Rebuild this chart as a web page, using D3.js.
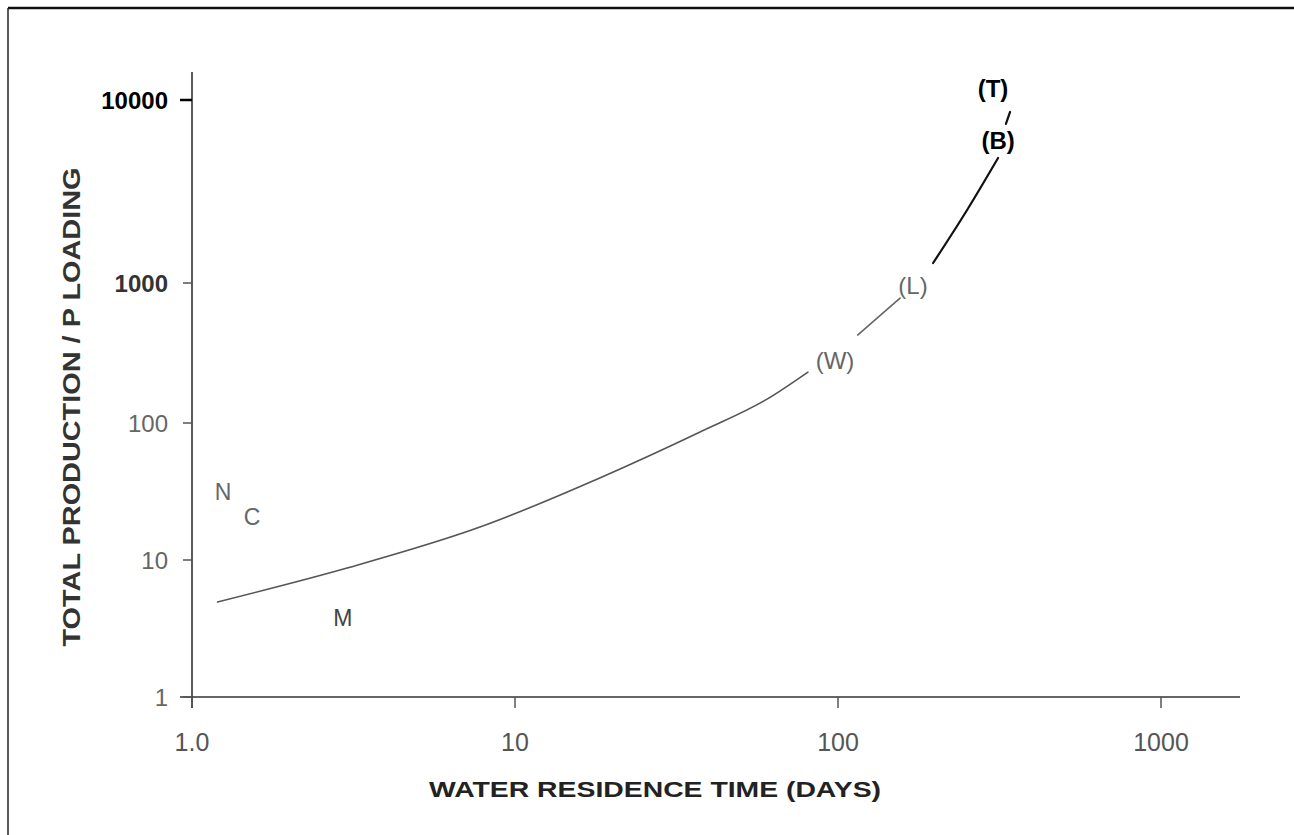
<!DOCTYPE html>
<html>
<head>
<meta charset="utf-8">
<script src="https://cdn.jsdelivr.net/npm/d3@7"></script>
<style>
  body { margin: 0; background: #fff; }
  svg { display: block; font-family: "Liberation Sans", Arial, sans-serif; }
</style>
</head>
<body>
<svg id="chart" width="1294" height="835"></svg>
<script>
// tick values
const xTicks = [1, 10, 100, 1000];
const xTickLabels = ["1.0", "10", "100", "1000"];
const yTicks = [1, 10, 100, 1000, 10000];
const yTickLabels = ["1", "10", "100", "1000", "10000"];

// curve pieces (residence time, production / P loading), broken where the labels sit
const curveLow = [[1.2, 4.94], [3.02, 8.74], [7.79, 17.4], [18.3, 39.7], [37.4, 86], [60.3, 148], [80.7, 231]];
const curveMid = [[115, 425], [155.6, 781]];
const curveHigh = [[197, 1286], [251, 2506], [313, 4820]];
const curveTop = [[331, 7400], [341, 8600]];

// lake / site labels
const siteNames = ["N", "C", "M", "(W)", "(L)", "(B)", "(T)"];
const siteX = [1.247, 1.534, 2.93, 97.9, 170.7, 313, 302];
const siteY = [31.3, 20.6, 3.77, 282, 968, 6040, 11600];

const svg = d3.select("#chart");

// frame of the scanned page
svg.append("line").attr("x1", 8).attr("y1", 8).attr("x2", 1294).attr("y2", 8)
  .attr("stroke", "#111").attr("stroke-width", 2.5);
svg.append("line").attr("x1", 8).attr("y1", 8).attr("x2", 8).attr("y2", 835)
  .attr("stroke", "#222").attr("stroke-width", 1.5);

const x = d3.scaleLog().domain([1, 1000]).range([192, 1161]);
// hand drawn axis: decades are not evenly spaced
const y = d3.scaleLog().domain(yTicks).range([697, 560, 423, 283, 100]);

// axes lines
svg.append("line").attr("x1", 180).attr("x2", 1240).attr("y1", y(1)).attr("y2", y(1))
  .attr("stroke", "#333").attr("stroke-width", 1.6);
svg.append("line").attr("x1", x(1)).attr("x2", x(1)).attr("y1", 72).attr("y2", 708)
  .attr("stroke", "#333").attr("stroke-width", 1.6);

// y ticks
svg.selectAll(".ytick").data(yTicks).enter().append("line")
  .attr("x1", d => d === 10000 ? 180 : 183).attr("x2", x(1))
  .attr("y1", d => y(d)).attr("y2", d => y(d))
  .attr("stroke", d => d === 10000 ? "#000" : "#555")
  .attr("stroke-width", d => d === 10000 ? 2.5 : 1.5);

svg.selectAll(".ylab").data(yTicks).enter().append("text")
  .attr("x", 168).attr("y", d => y(d))
  .attr("dy", "0.36em")
  .attr("text-anchor", "end")
  .attr("font-size", 24)
  .attr("font-weight", (d, i) => i >= 3 ? "bold" : "normal")
  .attr("fill", (d, i) => i === 4 ? "#000" : (i === 3 ? "#333" : "#666"))
  .text((d, i) => yTickLabels[i]);

// x ticks
svg.selectAll(".xtick").data(xTicks).enter().append("line")
  .attr("x1", d => x(d)).attr("x2", d => x(d))
  .attr("y1", y(1)).attr("y2", y(1) + 11)
  .attr("stroke", "#555").attr("stroke-width", 1.5);

svg.selectAll(".xlab").data(xTicks).enter().append("text")
  .attr("x", d => x(d)).attr("y", 742)
  .attr("dy", "0.36em")
  .attr("text-anchor", "middle")
  .attr("font-size", 25)
  .attr("fill", "#555")
  .text((d, i) => xTickLabels[i]);

// axis titles
svg.append("text")
  .attr("x", 655).attr("y", 789)
  .attr("dy", "0.36em")
  .attr("text-anchor", "middle")
  .attr("font-size", 22)
  .attr("font-weight", "bold")
  .attr("fill", "#222")
  .attr("textLength", 452).attr("lengthAdjust", "spacingAndGlyphs")
  .text("WATER RESIDENCE TIME (DAYS)");

svg.append("text")
  .attr("transform", "translate(72,407) rotate(-90)")
  .attr("dy", "0.36em")
  .attr("text-anchor", "middle")
  .attr("font-size", 23)
  .attr("font-weight", "bold")
  .attr("fill", "#333")
  .attr("textLength", 479).attr("lengthAdjust", "spacingAndGlyphs")
  .text("TOTAL PRODUCTION / P LOADING");

// curve
const line = d3.line()
  .x(d => x(d[0]))
  .y(d => y(d[1]))
  .curve(d3.curveMonotoneX);

const pieces = [
  { pts: curveLow, color: "#555", w: 1.6 },
  { pts: curveMid, color: "#666", w: 1.6 },
  { pts: curveHigh, color: "#111", w: 2.2 },
  { pts: curveTop, color: "#111", w: 2.2 }
];
svg.selectAll(".curve").data(pieces).enter().append("path")
  .attr("d", d => line(d.pts))
  .attr("fill", "none")
  .attr("stroke", d => d.color)
  .attr("stroke-width", d => d.w)
  .attr("stroke-linecap", "round");

// site labels
svg.selectAll(".site").data(siteNames).enter().append("text")
  .attr("x", (d, i) => x(siteX[i])).attr("y", (d, i) => y(siteY[i]))
  .attr("dy", "0.36em")
  .attr("text-anchor", "middle")
  .attr("font-size", (d, i) => i >= 5 ? 24 : (i >= 3 ? 24 : 23))
  .attr("font-weight", (d, i) => i >= 5 ? "bold" : "normal")
  .attr("fill", (d, i) => i >= 5 ? "#000" : (i === 2 ? "#444" : "#666"))
  .text(d => d);
</script>
</body>
</html>
